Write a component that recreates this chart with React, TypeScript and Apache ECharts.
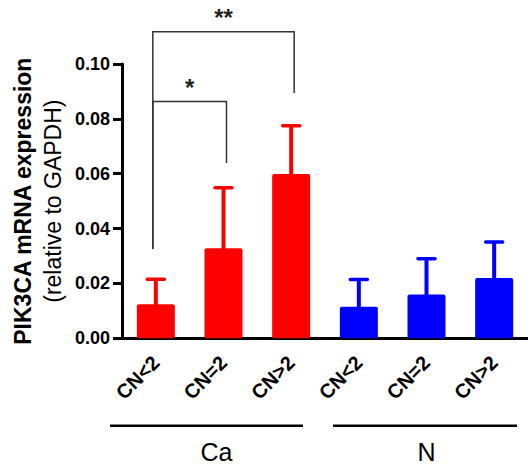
import React, { useEffect, useRef } from "react";
import * as echarts from "echarts";

const categories = ["CN<2", "CN=2", "CN>2", "CN<2", "CN=2", "CN>2"];
const caMean = [0.0124, 0.0328, 0.0599];
const caErr = [0.0091, 0.0221, 0.0176];
const nMean = [0.0115, 0.016, 0.022];
const nErr = [0.0099, 0.013, 0.0131];
const yTicks = [0, 0.02, 0.04, 0.06, 0.08, 0.1];
// significance brackets: [startIndex, endIndex, top, leftBottom, rightBottom]
const brackets = [
  [0, 2, 0.1118, 0.0326, 0.0894],
  [0, 1, 0.0863, 0.0326, 0.0639],
];
const bracketLabels = ["**", "*"];
const groupNames = ["Ca", "N"];

const RED = "#ff0000";
const BLUE = "#0000ff";
const FONT = "'Liberation Sans', Arial, Helvetica, sans-serif";

export default function App() {
  const ref = useRef<HTMLDivElement>(null);
  useEffect(() => {
    if (!ref.current) return;
    const chart = echarts.init(ref.current, null, { renderer: "svg" });

    const caBar = [...caMean, "-", "-", "-"];
    const nBar = ["-", "-", "-", ...nMean];
    const caErrData = caMean.map((m, i) => [i, m, m + caErr[i]]);
    const nErrData = nMean.map((m, i) => [i + 3, m, m + nErr[i]]);

    const errRender = (color: string) => (params: any, api: any) => {
      const x = api.value(0);
      const p0 = api.coord([x, api.value(1)]);
      const p1 = api.coord([x, api.value(2)]);
      return {
        type: "group",
        children: [
          {
            type: "line",
            shape: { x1: p0[0], y1: p0[1] + 2, x2: p1[0], y2: p1[1] },
            style: { stroke: color, lineWidth: 4 },
          },
          {
            type: "line",
            shape: { x1: p1[0] - 8.5, y1: p1[1], x2: p1[0] + 8.5, y2: p1[1] },
            style: { stroke: color, lineWidth: 3.5, lineCap: "round" },
          },
        ],
      };
    };

    chart.setOption({
      animation: false,
      textStyle: { fontFamily: FONT },
      grid: { left: 122, top: 64, bottom: 127.7, right: -4.4, containLabel: false },
      xAxis: {
        type: "category",
        data: categories,
        axisLine: { lineStyle: { color: "#000", width: 3 } },
        axisTick: { alignWithLabel: true, length: 9, lineStyle: { width: 3, color: "#000" } },
        axisLabel: {
          rotate: 45,
          interval: 0,
          margin: 21,
          fontSize: 20,
          fontWeight: "bold",
          color: "#000",
          fontFamily: FONT,
        },
      },
      yAxis: {
        type: "value",
        min: yTicks[0],
        max: yTicks[yTicks.length - 1],
        interval: 0.02,
        splitLine: { show: false },
        axisLine: { show: true, lineStyle: { color: "#000", width: 3 } },
        axisTick: { show: true, length: 9, lineStyle: { width: 3, color: "#000" } },
        axisLabel: {
          margin: 12,
          fontSize: 18,
          fontWeight: "bold",
          color: "#000",
          fontFamily: FONT,
          formatter: (v: number) => v.toFixed(2),
        },
        name: "{a|PIK3CA mRNA expression}\n{b|(relative to GAPDH)}",
        nameLocation: "middle",
        nameRotate: 90,
        nameGap: 53,
        nameTextStyle: {
          rich: {
            a: { fontSize: 23, fontWeight: "bold", lineHeight: 30, color: "#000", fontFamily: FONT },
            b: { fontSize: 23, lineHeight: 30, color: "#000", fontFamily: FONT },
          },
        },
      },
      series: [
        {
          type: "bar",
          name: "Ca",
          data: caBar,
          barWidth: 38,
          barGap: "-100%",
          itemStyle: { color: RED, borderRadius: 2 },
        },
        {
          type: "bar",
          name: "N",
          data: nBar,
          barWidth: 38,
          barGap: "-100%",
          itemStyle: { color: BLUE, borderRadius: 2 },
        },
        {
          type: "custom",
          name: "CaErr",
          data: caErrData,
          encode: { x: 0, y: [1, 2] },
          renderItem: errRender(RED),
          clip: false,
          z: 3,
        },
        {
          type: "custom",
          name: "NErr",
          data: nErrData,
          encode: { x: 0, y: [1, 2] },
          renderItem: errRender(BLUE),
          clip: false,
          z: 3,
        },
        {
          type: "custom",
          name: "sig",
          data: brackets,
          encode: { x: [0, 1], y: [2, 3, 4] },
          clip: false,
          z: 4,
          renderItem: (params: any, api: any) => {
            const s = api.value(0);
            const e = api.value(1);
            const top = api.coord([s, api.value(2)]);
            const lb = api.coord([s, api.value(3)]);
            const rb = api.coord([e, api.value(4)]);
            const topR = api.coord([e, api.value(2)]);
            const xl = top[0] - 3;
            const xr = topR[0] + 3;
            return {
              type: "group",
              children: [
                {
                  type: "polyline",
                  shape: {
                    points: [
                      [xl, lb[1]],
                      [xl, top[1]],
                      [xr, top[1]],
                      [xr, rb[1]],
                    ],
                  },
                  style: { stroke: "#333", lineWidth: 1.5, fill: "none" },
                },
                {
                  type: "text",
                  x: (xl + xr) / 2,
                  y: top[1] - 2,
                  style: {
                    text: bracketLabels[params.dataIndex],
                    fontSize: 24,
                    fontWeight: "bold",
                    fontFamily: FONT,
                    fill: "#222",
                    align: "center",
                    verticalAlign: "bottom",
                  },
                },
              ],
            };
          },
        },
      ],
      graphic: [
        { type: "line", shape: { x1: 110, y1: 425.7, x2: 303, y2: 425.7 }, style: { stroke: "#000", lineWidth: 2.5 } },
        { type: "line", shape: { x1: 333, y1: 425.7, x2: 517, y2: 425.7 }, style: { stroke: "#000", lineWidth: 2.5 } },
        {
          type: "text",
          x: 216.5,
          y: 452,
          style: { text: groupNames[0], fontSize: 25, fontFamily: FONT, fill: "#000", align: "center", verticalAlign: "middle" },
        },
        {
          type: "text",
          x: 426.5,
          y: 452,
          style: { text: groupNames[1], fontSize: 25, fontFamily: FONT, fill: "#000", align: "center", verticalAlign: "middle" },
        },
      ],
    });
    return () => chart.dispose();
  }, []);
  return (
    <div
      ref={ref}
      style={{ position: "fixed", left: 0, top: 0, width: 528, height: 466, background: "#fff" }}
    />
  );
}
